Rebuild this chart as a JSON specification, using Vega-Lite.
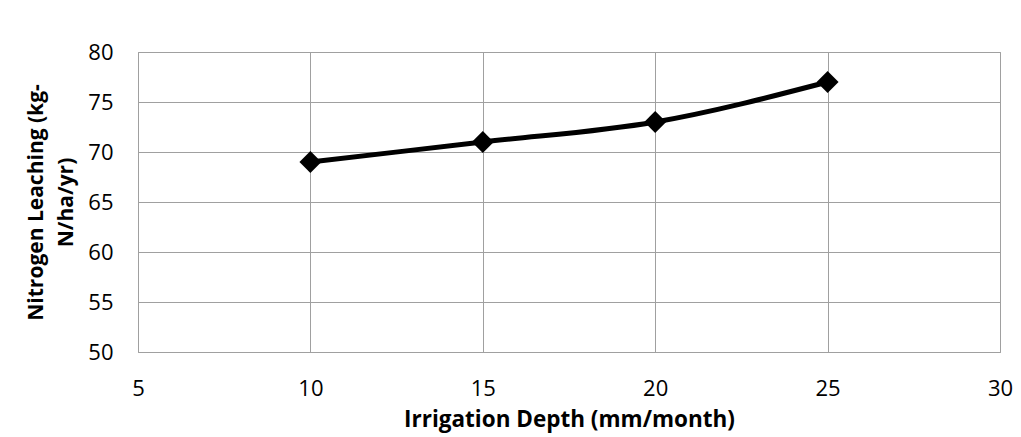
{
  "$schema": "https://vega.github.io/schema/vega-lite/v6.json",
  "width": 862,
  "height": 300,
  "autosize": {"type": "none"},
  "padding": {"left": 138, "top": 52, "right": 21, "bottom": 85},
  "background": "white",
  "config": {
    "font": "Open Sans",
    "view": {"stroke": "#999999", "strokeWidth": 1},
    "axis": {
      "gridColor": "#a0a0a0",
      "gridWidth": 1,
      "gridOpacity": 1,
      "domain": false,
      "ticks": false,
      "tickSize": 0,
      "labelFontSize": 22,
      "labelColor": "#000000",
      "titleFontSize": 22.5,
      "titleFontWeight": "bold",
      "titleColor": "#000000",
      "labelFont": "Open Sans",
      "titleFont": "Open Sans"
    }
  },
  "data": {
    "values": [
      {"depth": 10, "leaching": 69},
      {"depth": 15, "leaching": 71},
      {"depth": 20, "leaching": 73},
      {"depth": 25, "leaching": 77}
    ]
  },
  "encoding": {
    "x": {
      "field": "depth",
      "type": "quantitative",
      "scale": {"domain": [5, 30], "nice": false},
      "axis": {
        "values": [5, 10, 15, 20, 25, 30],
        "title": "Irrigation Depth (mm/month)",
        "labelPadding": 26,
        "titlePadding": 9,
        "labelFlush": false
      }
    },
    "y": {
      "field": "leaching",
      "type": "quantitative",
      "scale": {"domain": [50, 80], "nice": false, "zero": false},
      "axis": {
        "values": [50, 55, 60, 65, 70, 75, 80],
        "title": ["Nitrogen Leaching (kg-", "N/ha/yr)"],
        "titleFontSize": 21,
        "labelPadding": 25,
        "titlePadding": 11,
        "titleLineHeight": 30,
        "labelFlush": false
      }
    }
  },
  "layer": [
    {
      "mark": {"type": "line", "color": "#000000", "strokeWidth": 5, "interpolate": "monotone"}
    },
    {
      "mark": {"type": "point", "shape": "diamond", "filled": true, "color": "#000000", "size": 480, "opacity": 1}
    }
  ]
}
